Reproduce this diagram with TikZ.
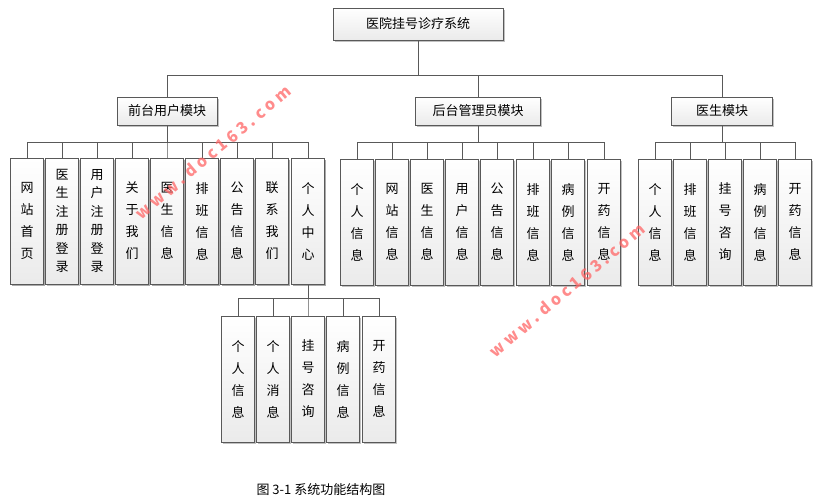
\documentclass[tikz,border=0pt]{standalone}
\usepackage{fontspec}
\setmainfont{Noto Sans CJK SC}
\usetikzlibrary{shadows}
\begin{document}
\begin{tikzpicture}[x=1pt,y=-1pt,
  bx/.style={draw=black!65,line width=0.8pt,top color=white,bottom color=black!8,drop shadow={shadow xshift=1.5pt,shadow yshift=-1.5pt,fill=black!40,opacity=0.6},inner sep=0pt,font=\fontsize{13}{15}\selectfont},
  leaf/.style={bx,minimum width=33,minimum height=126,align=center,font=\fontsize{13}{22}\selectfont},
  tight/.style={font=\fontsize{13}{18.5}\selectfont},
  ln/.style={draw=black!65,line width=0.8pt},
  wm/.style={text=red!60,opacity=0.75,font=\fontsize{16}{16}\selectfont\bfseries,rotate=40}]
\useasboundingbox[fill=white] (0,0) rectangle (813,501);
\node[bx,minimum width=170,minimum height=32] (root) at (418,24) {医院挂号诊疗系统};
\node[bx,minimum width=100,minimum height=28] (fa) at (167,111) {前台用户模块};
\node[bx,minimum width=125,minimum height=28] (fb) at (478,111) {后台管理员模块};
\node[bx,minimum width=101,minimum height=28] (fc) at (722,111) {医生模块};
\foreach \n/\p in {fa/167,fb/478,fc/722}
  \draw[ln] (\n.north) |- (root.south |- 0,75) -- (root.south);
% front leaves
\foreach \i/\x/\t/\s in {1/27/网\\站\\首\\页/leaf,2/62/医\\生\\注\\册\\登\\录/tight,3/97/用\\户\\注\\册\\登\\录/tight,4/132/关\\于\\我\\们/leaf,5/167/医\\生\\信\\息/leaf,6/202/排\\班\\信\\息/leaf,7/237/公\\告\\信\\息/leaf,8/272/联\\系\\我\\们/leaf,9/308/个\\人\\中\\心/leaf}{
  \node[leaf,\s] (a\i) at (\x,221) {\t};
  \draw[ln] (a\i.north) |- (fa.south |- 0,142) -- (fa.south);
}
\foreach \i/\x/\t in {1/357/个\\人\\信\\息,2/392/网\\站\\信\\息,3/427/医\\生\\信\\息,4/462/用\\户\\信\\息,5/497/公\\告\\信\\息,6/533/排\\班\\信\\息,7/568/病\\例\\信\\息,8/604/开\\药\\信\\息}{
  \node[leaf] (b\i) at (\x,222) {\t};
  \draw[ln] (b\i.north) |- (fb.south |- 0,142) -- (fb.south);
}
\foreach \i/\x/\t in {1/655/个\\人\\信\\息,2/690/排\\班\\信\\息,3/725/挂\\号\\咨\\询,4/760/病\\例\\信\\息,5/795/开\\药\\信\\息}{
  \node[leaf] (c\i) at (\x,222) {\t};
  \draw[ln] (c\i.north) |- (fc.south |- 0,142) -- (fc.south);
}
\foreach \i/\x/\t in {1/238/个\\人\\信\\息,2/273/个\\人\\消\\息,3/308/挂\\号\\咨\\询,4/343/病\\例\\信\\息,5/379/开\\药\\信\\息}{
  \node[leaf] (d\i) at (\x,379) {\t};
  \draw[ln] (d\i.north) |- (a9.south |- 0,298) -- (a9.south);
}
\node[font=\fontsize{13}{15}\selectfont,anchor=west] (cap) at (253,490) {图~3-1~系统功能结构图};
\node[wm] (w1) at (213,152) {w w w . d o c 1 6 3 . c o m};
\node[wm] (w2) at (567,290) {w w w . d o c 1 6 3 . c o m};
\end{tikzpicture}
\end{document}
